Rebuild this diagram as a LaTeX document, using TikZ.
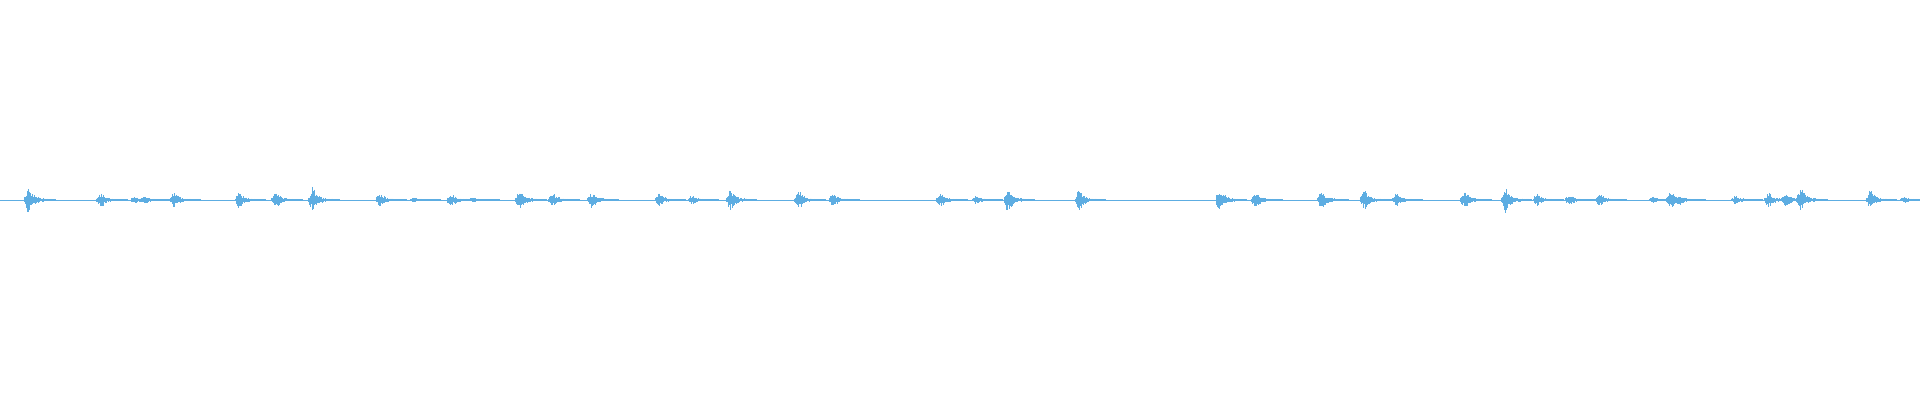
\documentclass[tikz,border=0pt]{standalone}
\begin{document}
\begin{tikzpicture}[x=0.5pt,y=0.5pt,wave/.style={draw=wv,line width=0.5pt}]
\definecolor{wv}{HTML}{5DADE2}
\useasboundingbox (0,0) rectangle (1920,400);
\pgfmathsetseed{7}
\draw[wave,line width=0.45pt] (0,200) -- (1920,200);
\foreach \d/\a in {23/14,82/7,110/3,118/3,142/7,195/8,225/8,255/13,310/6,338/2,368/6,386/2,424/10,451/7,483/8,538/6,565/4,596/11,652/9,680/6,768/6,797/4,823/12,881/10,996/11,1025/8,1079/9,1114/10,1140/6,1196/8,1229/13,1255/6,1281/5,1306/6,1350/3,1364/10,1371/5,1417/4,1444/8,1458/7,1470/13,1527/10,1555/3}{
  \pgfmathsetmacro\X{\d*1.2245}
  \foreach \i in {-4,...,30}{
    \ifnum\i<0
      \pgfmathsetmacro\e{(5+\i)/5}
    \else
      \pgfmathsetmacro\e{1/(1+\i*\i/25)}
    \fi
    \pgfmathsetmacro\h{\a*\e*(0.35+0.65*rnd)+0.6}
    \pgfmathsetmacro\hb{\a*\e*(0.35+0.65*rnd)+0.6}
    \draw[wave] (\X+\i*0.9,200+\h) -- (\X+\i*0.9,200-\hb);
  }
}
\end{tikzpicture}
\end{document}
